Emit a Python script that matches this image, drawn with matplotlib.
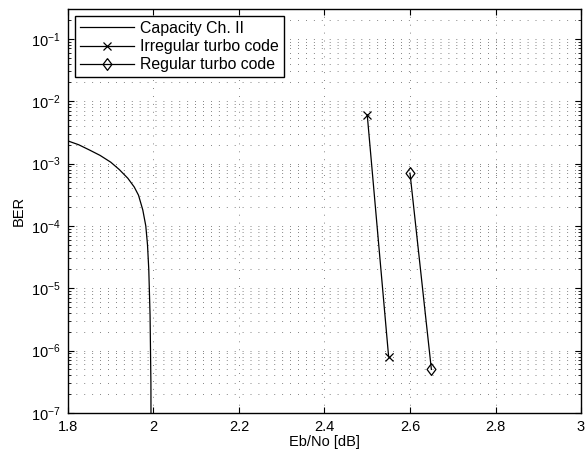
import numpy as np
import matplotlib.pyplot as plt
from matplotlib.ticker import NullFormatter

plt.rcParams['font.family'] = ['Liberation Sans', 'DejaVu Sans']

# capacity curve
cap_ebno = [1.8, 1.825, 1.85, 1.875, 1.9, 1.92, 1.94, 1.955, 1.965, 1.975, 1.982, 1.986, 1.989, 1.992, 1.994, 1.9945]
cap_ber = [2.3e-3, 2.0e-3, 1.65e-3, 1.35e-3, 1.05e-3, 8.0e-4, 5.8e-4, 4.2e-4, 3.1e-4, 1.8e-4, 1.0e-4, 5e-5, 2e-5, 3.7e-6, 3e-7, 1e-8]

irr_ebno = [2.5, 2.55]
irr_ber = [6e-3, 8e-7]

reg_ebno = [2.6, 2.65]
reg_ber = [7e-4, 5e-7]

x_ticks = [1.8, 2, 2.2, 2.4, 2.6, 2.8, 3]
x_ticklabels = ['1.8', '2', '2.2', '2.4', '2.6', '2.8', '3']
y_ticks = [1e-7, 1e-6, 1e-5, 1e-4, 1e-3, 1e-2, 1e-1]

# matlab-like diamond
diamond = [(0, 1), (0.75, 0), (0, -1), (-0.75, 0), (0, 1)]

fig = plt.figure(figsize=(5.87, 4.57), dpi=100)
ax = fig.add_axes([0.1158, 0.0963, 0.874, 0.884])

ax.semilogy(cap_ebno, cap_ber, color='k', lw=0.9, label='Capacity Ch. II')
ax.semilogy(irr_ebno, irr_ber, color='k', lw=0.9, marker='x', ms=5.5, mew=0.9,
            label='Irregular turbo code')
ax.semilogy(reg_ebno, reg_ber, color='k', lw=0.9, marker=diamond, ms=8.5, mew=0.9,
            mfc='none', label='Regular turbo code')

ax.set_xlim(1.8, 3)
ax.set_ylim(1e-7, 0.3)
ax.set_xticks(x_ticks)
ax.set_xticklabels(x_ticklabels)
ax.set_yticks(y_ticks)
minor = [m * 10.0 ** e for e in range(-7, 0) for m in range(2, 10) if m * 10.0 ** e <= 0.3]
ax.set_yticks(minor, minor=True)
ax.yaxis.set_minor_formatter(NullFormatter())

grid_ls = (0, (1, 8.5))
ax.grid(True, which='major', axis='both', color='0.35', ls=grid_ls, lw=0.6)
ax.grid(True, which='minor', axis='y', color='0.35', ls=grid_ls, lw=0.6)
ax.tick_params(which='both', direction='in', top=True, right=True, labelsize=10.5)
ax.tick_params(which='major', length=4, pad=5)
ax.tick_params(which='minor', length=2)
for s in ax.spines.values():
    s.set_linewidth(1.0)

ax.set_xlabel('Eb/No [dB]', fontsize=10.5, labelpad=1)
ax.set_ylabel('BER', fontsize=10.5, labelpad=4)

leg = ax.legend(loc='upper left', fontsize=11.4, fancybox=False, framealpha=1,
                edgecolor='k', handlelength=3.4, borderaxespad=0.45,
                borderpad=0.3, labelspacing=0.2, handletextpad=0.4)
leg.get_frame().set_linewidth(1.0)

fig.savefig('out.png', dpi=100)
